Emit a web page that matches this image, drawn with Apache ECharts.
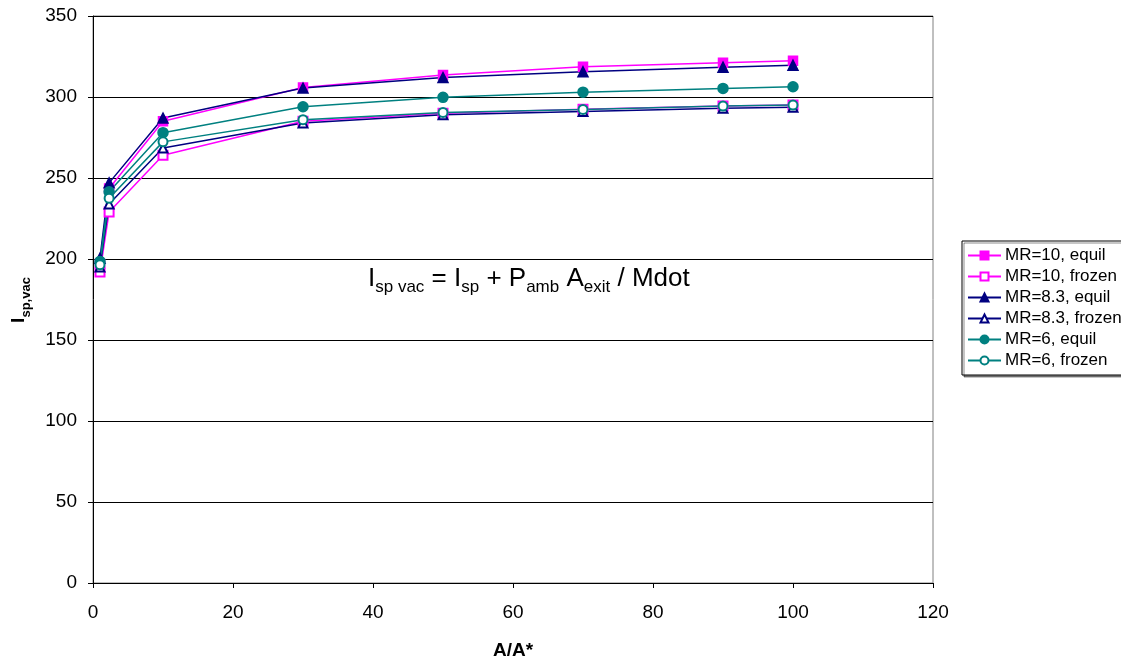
<!DOCTYPE html>
<html>
<head>
<meta charset="utf-8">
<script src="https://cdn.jsdelivr.net/npm/echarts@6/dist/echarts.min.js"></script>
<style>
  html, body { margin: 0; padding: 0; background: #fff; }
  #chart { width: 1121px; height: 662px; }
</style>
</head>
<body>
<div id="chart"></div>
<script>
// area ratio A/A*
const areaRatio = [1, 2.3, 10, 30, 50, 70, 90, 100];

// specific impulse in vacuum, one array per mixture ratio / flow model
const mr10Equil = [197, 243.5, 285, 305.8, 313.6, 318.6, 321.2, 322.3];
const mr10Frozen = [192, 229, 264, 285, 290, 292.5, 294.5, 295];
const mr83Equil = [200.5, 247, 287, 305.5, 312, 315.6, 318.4, 319.6];
const mr83Frozen = [195, 234, 268.5, 284, 289, 291, 293, 293.7];
const mr6Equil = [198.5, 241.5, 278, 294, 299.8, 303, 305.3, 306.3];
const mr6Frozen = [196.5, 237.5, 272.3, 286, 290.5, 292.3, 294.4, 295];

const FONT = "Liberation Sans, Arial, sans-serif";
const MAGENTA = "#ff00ff";
const NAVY = "#000080";
const TEAL = "#008080";

const pair = (ys) => areaRatio.map((x, i) => [x, ys[i]]);

function line(name, data, color, symbol, size) {
  return {
    name,
    type: "line",
    data: pair(data),
    symbol,
    symbolSize: size,
    lineStyle: { color, width: 1.5 },
    itemStyle: { color, borderColor: color, borderWidth: 1.5 },
    emphasis: { disabled: true },
  };
}

const chart = echarts.init(document.getElementById("chart"));

chart.setOption({
  animation: false,
  textStyle: { fontFamily: FONT },
  grid: {
    left: 93, right: 188, top: 16, bottom: 79,
    outerBoundsMode: "none",
    show: true, borderColor: "#808080", borderWidth: 1,
  },
  legend: {
    orient: "vertical",
    left: 962, top: 241,
    itemWidth: 33, itemHeight: 10, itemGap: 4,
    padding: [6, 4, 6, 5],
    backgroundColor: "#fff",
    borderColor: "#000", borderWidth: 1,
    shadowColor: "rgba(0,0,0,0.45)", shadowOffsetX: 2, shadowOffsetY: 2, shadowBlur: 0,
    textStyle: { fontFamily: FONT, fontSize: 17, color: "#000", padding: [0, 0, 0, -1] },
    data: ["MR=10, equil", "MR=10, frozen", "MR=8.3, equil", "MR=8.3, frozen", "MR=6, equil", "MR=6, frozen"],
  },
  xAxis: {
    type: "value", min: 0, max: 120, interval: 20,
    name: "A/A*", nameLocation: "middle", nameGap: 58,
    nameTextStyle: { fontFamily: FONT, fontSize: 19, fontWeight: "bold", color: "#000" },
    axisLine: { show: true, onZero: false, lineStyle: { color: "#000", width: 1 } },
    axisTick: { show: true, inside: false, length: 5, lineStyle: { color: "#000" } },
    axisLabel: { fontFamily: FONT, fontSize: 19, color: "#000", margin: 20 },
    splitLine: { show: false },
  },
  yAxis: {
    type: "value", min: 0, max: 350, interval: 50,
    axisLine: { show: true, lineStyle: { color: "#000", width: 1 } },
    axisTick: { show: true, inside: false, length: 5, lineStyle: { color: "#000" } },
    axisLabel: { fontFamily: FONT, fontSize: 19, color: "#000", margin: 16 },
    splitLine: { show: true, lineStyle: { color: "#000", width: 1 } },
  },
  graphic: [
    {
      type: "text",
      x: 20, y: 300,
      rotation: Math.PI / 2,
      style: {
        text: "{m|I}{s|sp,vac}",
        align: "center", verticalAlign: "middle",
        rich: {
          m: { fontFamily: FONT, fontSize: 19, fontWeight: "bold", color: "#000", lineHeight: 22, verticalAlign: "top" },
          s: { fontFamily: FONT, fontSize: 13, fontWeight: "bold", color: "#000", lineHeight: 15, padding: [11, 0, 0, 0], verticalAlign: "top" },
        },
      },
    },
    {
      type: "text",
      x: 368, y: 266,
      style: {
        text: "{m|I}{s|sp vac}{m| = I}{s|sp}{m| + P}{s|amb}{m| A}{s|exit}{m| / Mdot}",
        rich: {
          m: { fontFamily: FONT, fontSize: 26, color: "#000", lineHeight: 29, verticalAlign: "top" },
          s: { fontFamily: FONT, fontSize: 17, color: "#000", lineHeight: 19, padding: [13, 0, 0, 0], verticalAlign: "top" },
        },
      },
    },
  ],
  series: [
    line("MR=10, equil", mr10Equil, MAGENTA, "rect", 9),
    line("MR=10, frozen", mr10Frozen, MAGENTA, "emptyRect", 9),
    line("MR=8.3, equil", mr83Equil, NAVY, "triangle", 10),
    line("MR=8.3, frozen", mr83Frozen, NAVY, "emptyTriangle", 9),
    line("MR=6, equil", mr6Equil, TEAL, "circle", 10),
    line("MR=6, frozen", mr6Frozen, TEAL, "emptyCircle", 9),
  ],
});
</script>
</body>
</html>
